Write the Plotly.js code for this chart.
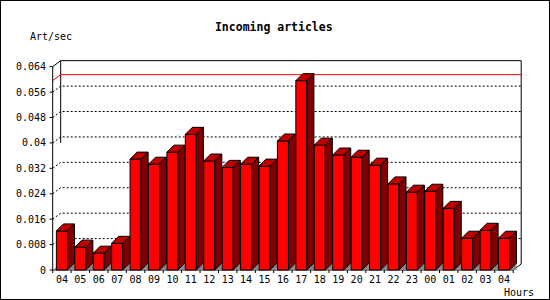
<!DOCTYPE html>
<html>
<head>
<meta charset="utf-8">
<script src="https://cdn.plot.ly/plotly-3.0.1.min.js"></script>
<style>
  html, body { margin: 0; padding: 0; background: #fff; }
  #wrap { position: relative; width: 550px; height: 300px; }
  #chart { position: absolute; left: 0; top: 0; width: 550px; height: 300px; }
  #frame { position: absolute; left: 0; top: 0; width: 550px; height: 300px; box-sizing: border-box; border: 1px solid #000; pointer-events: none; }
</style>
</head>
<body>
<div id="wrap"><div id="chart"></div><div id="frame"></div></div>
<script>
// ---- data ----
const hours = ['04','05','06','07','08','09','10','11','12','13','14','15','16','17','18','19','20','21','22','23','00','01','02','03','04'];
const artPerSec = [0.0123, 0.0072, 0.0053, 0.0084, 0.0349, 0.0333, 0.0371, 0.0427, 0.0343, 0.0323, 0.0333, 0.0327, 0.0406, 0.0596, 0.0393, 0.0362, 0.0355, 0.0330, 0.0271, 0.0245, 0.0248, 0.0194, 0.0100, 0.0125, 0.0100];
const yTickVals = [0, 0.008, 0.016, 0.024, 0.032, 0.04, 0.048, 0.056, 0.064];
const yTickText = ['0', '0.008', '0.016', '0.024', '0.032', '0.04', '0.048', '0.056', '0.064'];
const titleText = 'Incoming articles';
const yUnitText = 'Art/sec';
const xUnitText = 'Hours';

// ---- geometry / style ----
const W = 550, H = 300;
const M = {l: 48, r: 24, t: 56, b: 26};
const PX_CAT = 18.42, PX_UNIT = 3177;
const FRONT_X_PX = 52.7, ZERO_Y_PX = 270;
const PW = W - M.l - M.r, PH = H - M.t - M.b;
const xmin = -0.5 - (FRONT_X_PX - M.l) / PX_CAT, xmax = xmin + PW / PX_CAT;
const ymin = -(H - M.b - ZERO_Y_PX) / PX_UNIT, ymax = ymin + PH / PX_UNIT;
const dxB = 8 / PX_CAT, dyB = 6 / PX_UNIT;   // back-plane offset
const dxD = 7 / PX_CAT, dyD = 7 / PX_UNIT;   // bar depth
const HW = 0.3;                               // half bar width
const TICK_X = 3 / PX_CAT, TICK_Y = 3 / PX_UNIT;
const FONT = 'DejaVu Sans Mono, Liberation Mono, monospace';

const n = hours.length;
const xL = -0.5, xR = n - 0.5;
const yTop = yTickVals[yTickVals.length - 1];
const maxVal = Math.max(...artPerSec);

function poly(list) { // closed polygons separated by gaps
  const x = [], y = [];
  list.forEach(p => { p.forEach(q => { x.push(q[0]); y.push(q[1]); }); x.push(p[0][0]); y.push(p[0][1]); x.push(null); y.push(null); });
  return {x, y};
}
function segs(list) { // open polylines separated by gaps
  const x = [], y = [];
  list.forEach(p => { p.forEach(q => { x.push(q[0]); y.push(q[1]); }); x.push(null); y.push(null); });
  return {x, y};
}
const base = {type: 'scatter', mode: 'lines', hoverinfo: 'skip', showlegend: false, connectgaps: false};

const traces = [];
// dashed grid lines (front diagonal + back horizontal)
const grid = segs(yTickVals.slice(1, -1).map(v => [[xL, v], [xL + dxB, v + dyB], [xR + dxB, v + dyB]]));
traces.push(Object.assign({}, base, grid, {line: {color: '#000', width: 1, dash: '2px,2px'}}));
// frame
const frame = segs([
  [[xL, 0], [xL, yTop], [xL + dxB, yTop + dyB], [xR + dxB, yTop + dyB], [xR + dxB, dyB], [xR, 0], [xL, 0]],
  [[xL + dxB, yTop + dyB], [xL + dxB, yTickVals[5]]]
]);
traces.push(Object.assign({}, base, frame, {line: {color: '#000', width: 1}}));
// max line
const mx = segs([[[xL, maxVal], [xL + dxB, maxVal + dyB], [xR + dxB, maxVal + dyB]]]);
traces.push(Object.assign({}, base, mx, {line: {color: '#ff0000', width: 1}}));
// tick marks
const ticks = segs(
  yTickVals.map(v => [[xL - TICK_X, v], [xL, v]]).concat(
  hours.map((h, i) => [[i - 0.5, 0], [i - 0.5, -TICK_Y]])).concat([[[xR, 0], [xR, -TICK_Y]]])
);
traces.push(Object.assign({}, base, ticks, {line: {color: '#000', width: 1}}));
// floor shadows
const shadows = poly([[[xL, 0], [xL + dxB, dyB], [xL + dxB, 0]]].concat(
  artPerSec.map((v, i) => [[i + HW, 0], [i + HW + dxD, dyD], [i + HW + dxD, 0]])));
traces.push(Object.assign({}, base, shadows, {fill: 'toself', fillcolor: '#888888', line: {width: 0, color: 'rgba(0,0,0,0)'}}));
// bars: front, top, side
const fronts = poly(artPerSec.map((v, i) => [[i - HW, 0], [i - HW, v], [i + HW, v], [i + HW, 0]]));
const tops = poly(artPerSec.map((v, i) => [[i - HW, v], [i - HW + dxD, v + dyD], [i + HW + dxD, v + dyD], [i + HW, v]]));
const sides = poly(artPerSec.map((v, i) => [[i + HW, 0], [i + HW, v], [i + HW + dxD, v + dyD], [i + HW + dxD, dyD]]));
traces.push(Object.assign({}, base, fronts, {fill: 'toself', fillcolor: '#ff0000', line: {color: '#000', width: 1}}));
traces.push(Object.assign({}, base, tops, {fill: 'toself', fillcolor: '#c00000', line: {color: '#000', width: 1}}));
traces.push(Object.assign({}, base, sides, {fill: 'toself', fillcolor: '#800000', line: {color: '#000', width: 1}}));

const tickFont = {family: FONT, size: 10, color: '#000'};
const layout = {
  width: W, height: H,
  margin: M,
  paper_bgcolor: '#fff', plot_bgcolor: 'rgba(0,0,0,0)',
  title: {text: titleText, font: {family: FONT, size: 11.5, weight: 'bold', color: '#000'},
          x: 273.8 / W, xref: 'container', xanchor: 'center', y: 1 - 27.3 / H, yref: 'container', yanchor: 'middle'},
  xaxis: {range: [xmin, xmax], tickmode: 'array', tickvals: hours.map((h, i) => i), ticktext: hours,
          ticks: '', showgrid: false, zeroline: false, showline: false, tickfont: tickFont, fixedrange: true, ticklabelstandoff: -2},
  yaxis: {range: [ymin, ymax], tickmode: 'array', tickvals: yTickVals, ticktext: yTickText,
          ticks: '', showgrid: false, zeroline: false, showline: false, tickfont: tickFont, fixedrange: true, ticklabelstandoff: 1},
  annotations: [
    {text: yUnitText, xref: 'paper', yref: 'paper', x: (50.5 - M.l) / PW, y: (H - M.b - 36.7) / PH,
     xanchor: 'center', yanchor: 'middle', showarrow: false, font: tickFont},
    {text: xUnitText, xref: 'paper', yref: 'paper', x: (519 - M.l) / PW, y: (H - M.b - 292.3) / PH,
     xanchor: 'center', yanchor: 'middle', showarrow: false, font: tickFont}
  ],
  showlegend: false
};
Plotly.newPlot('chart', traces, layout, {staticPlot: true, displayModeBar: false});
</script>
</body>
</html>
